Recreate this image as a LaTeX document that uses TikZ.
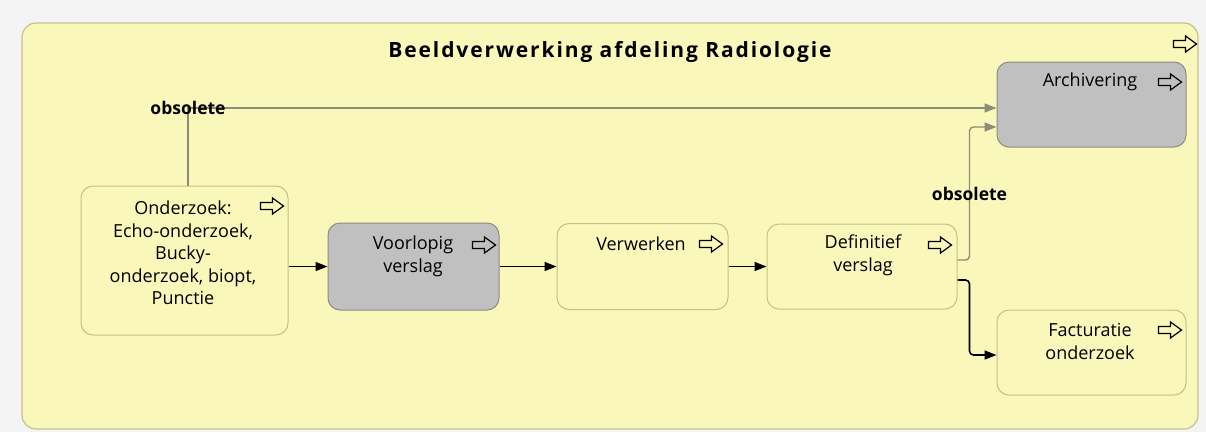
\documentclass[tikz,border=0pt]{standalone}
\usepackage{fontspec}
\setmainfont{Open Sans}
\newfontfamily\titlefont[LetterSpace=9]{Open Sans}
\usetikzlibrary{arrows.meta,calc}

\definecolor{pagebg}{RGB}{244,244,244}
\definecolor{lanefill}{RGB}{250,247,186}
\definecolor{laneline}{RGB}{198,194,140}
\definecolor{stepline}{RGB}{196,192,132}
\definecolor{greyfill}{RGB}{192,192,192}
\definecolor{greyline}{RGB}{140,140,128}
\definecolor{obsline}{RGB}{140,140,120}

\tikzset{
  lane/.style={draw=laneline, fill=lanefill, rounded corners=14pt, line width=1.2pt},
  ybox/.style={draw=stepline, fill=lanefill, rounded corners=12pt, line width=1pt},
  gbox/.style={draw=greyline, fill=greyfill, rounded corners=12pt, line width=1pt},
  txt/.style={font=\fontsize{18}{22.5}\selectfont, align=center, inner sep=0pt},
  titletxt/.style={font=\titlefont\bfseries\fontsize{21}{24}\selectfont, inner sep=0pt},
  lbl/.style={font=\bfseries\fontsize{17.5}{20}\selectfont, inner sep=0pt},
  flow/.style={draw=black, line width=1.6pt, -{Triangle[length=12pt,width=9pt]}},
  obs/.style={draw=obsline, line width=1.4pt, -{Triangle[length=12pt,width=9pt]}},
  subicon/.pic={
    \draw[line width=1.2pt, line join=miter]
      (-11.5,-3.5) -- (0.5,-3.5) -- (0.5,-8) -- (11.5,0) -- (0.5,8) -- (0.5,3.5) -- (-11.5,3.5) -- cycle;
  }
}

\begin{document}
\begin{tikzpicture}[x=1pt,y=-1pt]
  \fill[pagebg] (0,0) rectangle (1206,432);
  \useasboundingbox (0,0) rectangle (1206,432);

  % swimlane
  \node[lane, minimum width=1176pt, minimum height=406pt] (lane) at (610,226) {};
  \node[titletxt] (title) at (610,52) {Beeldverwerking afdeling Radiologie};
  \pic at (1185,44) {subicon};

  % process steps
  \node[gbox, minimum width=189pt, minimum height=85pt] (arc) at (1091.5,104.5) {};
  \node[ybox, minimum width=207pt, minimum height=149pt] (ond) at (184.5,260.5) {};
  \node[gbox, minimum width=171pt, minimum height=87pt] (vl) at (413.5,266.5) {};
  \node[ybox, minimum width=171pt, minimum height=86pt] (ver) at (642.5,266.5) {};
  \node[ybox, minimum width=190pt, minimum height=85pt] (def) at (862,266.5) {};
  \node[ybox, minimum width=189pt, minimum height=85pt] (fac) at (1091.5,352.5) {};

  % step texts
  \node[txt] (arc-t) at (1090,82) {Archivering};
  \node[txt] (ond-t) at (183,253) {Onderzoek:\\Echo-onderzoek,\\Bucky-\\onderzoek, biopt,\\Punctie};
  \node[txt] (vl-t) at (413,256.5) {Voorlopig\\verslag};
  \node[txt] (ver-t) at (641,244) {Verwerken};
  \node[txt] (def-t) at (863,255.5) {Definitief\\verslag};
  \node[txt] (fac-t) at (1090,341.5) {Facturatie\\onderzoek};

  % sub-process markers
  \pic at (1170,82) {subicon};
  \pic at (272,206) {subicon};
  \pic at (484,245) {subicon};
  \pic at (711,244) {subicon};
  \pic at (940,245) {subicon};
  \pic at (1170,330) {subicon};

  % flows
  \draw[flow] (ond.east |- vl.west) -- (vl.west);
  \draw[flow] (vl.east) -- (ver.west);
  \draw[flow] (ver.east) -- (def.west);
  \draw[flow, rounded corners=4pt] ($(def.east)+(0,13.5)$) -| ($(fac.west)+(-27,2.5)$) -- ($(fac.west)+(0,2.5)$);

  % obsolete flows
  \draw[obs, rounded corners=4pt] ($(def.east)+(0,-6.5)$) -| node[lbl, pos=0.75] (obs2) {obsolete} ($(arc.west)+(-27,22.5)$) -- ($(arc.west)+(0,22.5)$);
  \draw[obs] ($(ond.north)+(3.5,0)$) |- node[lbl, pos=0.5] (obs1) {obsolete} ($(arc.west)+(0,3.5)$);
\end{tikzpicture}
\end{document}
